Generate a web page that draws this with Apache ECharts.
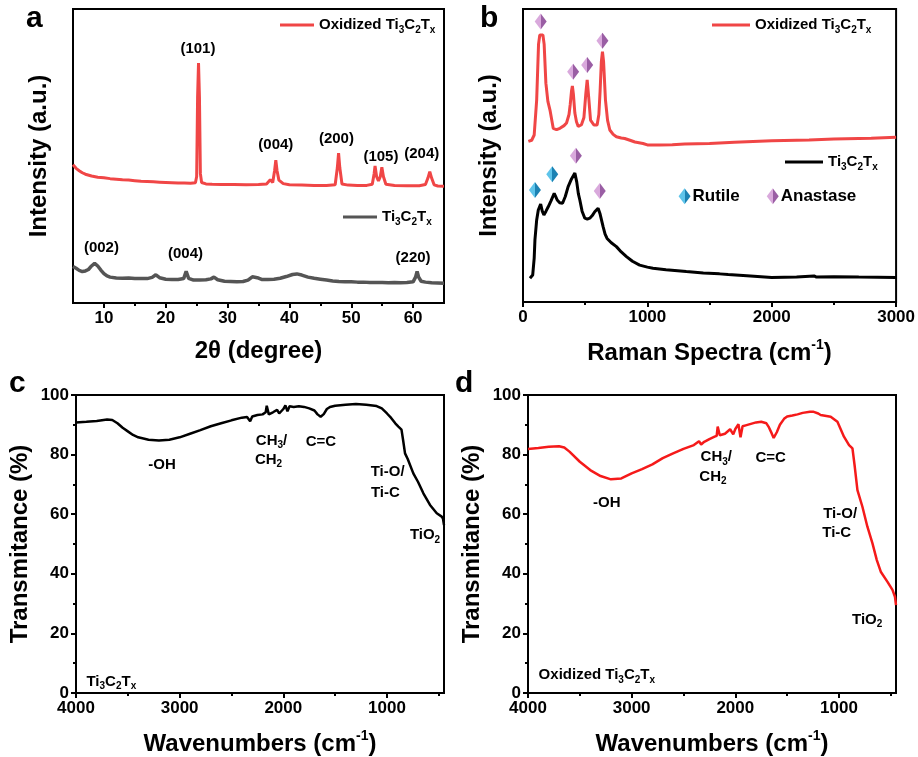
<!DOCTYPE html>
<html>
<head>
<meta charset="utf-8">
<script src="https://cdn.jsdelivr.net/npm/echarts@6/dist/echarts.min.js"></script>
<style>
  html, body { margin: 0; padding: 0; background: #fff; }
  #chart { width: 918px; height: 757px; }
</style>
</head>
<body>
<div id="chart"></div>
<script>
// ---- (a) XRD patterns, 2θ (degree) vs intensity (a.u.)
const xrdOxidized = [[5,47],[5.5,45.8],[6,45],[6.5,44.3],[7,43.8],[8,43.2],[9,42.8],[10,42.6],[11,42.3],[12,42.1],[13,41.9],[14,41.8],[15,41.6],[16,41.4],[17,41.3],[18,41.2],[19,41.1],[20,41.0],[21,40.9],[22,40.8],[23,40.8],[24,40.7],[24.8,40.9],[25.0,43],[25.15,70],[25.3,81.6],[25.45,70],[25.6,44],[25.8,41],[26.5,40.5],[27.5,40.4],[29,40.3],[31,40.3],[33,40.2],[35,40.3],[36.3,40.5],[36.9,41.9],[37.3,41.0],[37.6,45],[37.8,48.6],[38.0,45],[38.3,41.8],[38.6,41.5],[39.0,40.6],[40,40.2],[42,40.1],[44,40.0],[46,40.0],[47.4,40.2],[47.75,46],[47.95,51],[48.15,46],[48.5,40.5],[49.5,40.1],[51,40.0],[52.5,40.0],[53.4,40.4],[53.7,44],[53.85,46.6],[54.1,43],[54.4,41.5],[54.7,43],[54.95,46.2],[55.2,43],[55.6,40.4],[57,40.0],[59,39.9],[61,39.9],[62,40.3],[62.4,42.5],[62.7,44.7],[63.0,42.5],[63.4,40.2],[64,39.8],[65,39.7]];
const xrdPristine = [[5,12.4],[5.5,11.8],[6,11.1],[6.5,10.7],[7,10.9],[7.5,11.4],[8,12.6],[8.5,13.5],[9,12.6],[9.5,11.2],[10,10],[10.5,9.2],[11,8.8],[12,8.5],[13,8.4],[14,8.5],[15,8.3],[16,8.3],[17,8.3],[17.8,8.7],[18.4,9.6],[19,8.6],[20,8.1],[21,8.0],[22,8.0],[22.9,8.3],[23.3,10.8],[23.7,8.4],[24.5,7.8],[25.5,7.8],[26.5,7.9],[27.3,8.2],[27.8,8.8],[28.4,7.9],[29.5,7.4],[30.5,7.3],[31.5,7.2],[32.5,7.3],[33.3,7.8],[34,8.9],[34.8,8.6],[35.5,8.0],[36.5,8.0],[37.5,8.1],[38.5,8.4],[39.5,9.0],[40.5,9.7],[41.2,9.9],[42,9.5],[43,8.8],[44,8.4],[45,8.1],[46,7.8],[47,7.5],[48,7.3],[49,7.2],[50,7.2],[51,7.1],[52,7.1],[53,7.0],[54,7.0],[55,7.0],[56,6.9],[57,7.0],[58,6.9],[59,7.0],[60,7.2],[60.4,8.8],[60.65,10.7],[60.9,8.8],[61.3,7.4],[62,7.1],[63,6.9],[64,6.8],[65,6.7]];
const xrdTicks = [10, 20, 30, 40, 50, 60];
const xrdMinorTicks = [15, 25, 35, 45, 55];
const xrdPeakNotes = [[25.2,86.3,'(101)'],[37.8,53.7,'(004)'],[47.6,55.8,'(200)'],[54.8,49.8,'(105)'],[61.4,50.7,'(204)'],[9.6,18.6,'(002)'],[23.2,16.7,'(004)'],[60.0,15.4,'(220)']];

// ---- (b) Raman spectra
const ramanOxidized = [[43,54.8],[70,55.2],[90,57],[110,69],[125,88],[135,91.1],[160,91.1],[170,88],[184,74.7],[200,68.5],[217,65.5],[243,59.3],[270,58.8],[297,59.3],[330,60.2],[350,61.1],[370,64],[380,67.5],[390,72],[397,73.7],[405,71],[417,64.5],[430,61.5],[444,59.9],[470,60.5],[490,63],[505,71],[516,75.8],[528,70],[543,62.1],[570,60.4],[596,60.4],[610,64],[620,72],[630,82],[639,85.4],[648,82],[663,69],[680,62],[698,58.7],[725,57.2],[751,56.4],[790,56],[818,55.8],[860,55.2],[900,54.6],[965,54.1],[1000,53.6],[1100,53.6],[1200,53.7],[1300,53.9],[1500,54.1],[1700,54.5],[2000,55.0],[2300,55.3],[2500,55.6],[2800,55.9],[3000,56.2]];
const ramanPristine = [[56,8.1],[78,9.2],[90,15],[96,21.2],[110,28],[123,31.4],[142,33.4],[155,31],[168,29.7],[185,31],[203,32.5],[225,34.5],[251,37.1],[263,36],[275,34.8],[295,33.9],[318,33.7],[340,36],[363,39.4],[390,42],[417,44],[432,41],[445,37],[457,34.8],[475,31],[497,28.6],[517,28.3],[537,28.6],[557,29.5],[577,30.8],[604,32],[620,30],[644,25.7],[660,23.2],[676,21.7],[710,20.2],[751,18.9],[790,17.1],[832,15.5],[880,13.9],[938,12.6],[1000,11.9],[1045,11.5],[1150,11.0],[1313,10.4],[1450,9.9],[1580,9.6],[1650,9.4],[1800,9.0],[2000,8.4],[2200,8.5],[2340,8.9],[2360,8.5],[2500,8.6],[2700,8.5],[3000,8.4]];
const anataseMarks = [[142,95.7],[403,78.6],[516,80.9],[639,89.2],[425,49.9],[617,37.9]];
const rutileMarks = [[96,38.2],[235,43.6]];
const phaseKey = [[1299,36.1,'Rutile','rutile'],[2008,36.1,'Anastase','anatase']];

// ---- (c, d) FTIR transmittance vs wavenumber
const ftirPristine = [[4000,90.8],[3900,91.0],[3800,91.3],[3700,91.8],[3650,91.6],[3600,90.5],[3550,89],[3500,87.8],[3450,86.6],[3400,85.8],[3300,85.0],[3200,84.7],[3100,85.0],[3000,85.8],[2900,87.0],[2800,88.2],[2700,89.5],[2600,90.5],[2500,91.5],[2400,92.4],[2350,92.6],[2320,91.2],[2300,92.8],[2250,93.3],[2200,93.5],[2170,94.2],[2160,96.4],[2140,93.5],[2100,94.2],[2060,95.0],[2040,93.8],[2000,95.3],[1980,96.5],[1960,94.5],[1940,96.2],[1900,96.0],[1850,96.2],[1800,96.0],[1750,95.5],[1700,94.8],[1670,93.5],[1640,92.7],[1610,93.6],[1580,95.3],[1550,96.0],[1500,96.4],[1400,96.7],[1300,97.0],[1200,96.7],[1100,96.3],[1050,95.5],[1000,93.8],[960,92.3],[920,90.5],[890,89.4],[860,88.4],[845,85],[826,80.4],[800,78.5],[746,73.7],[700,70.8],[649,67],[585,63.1],[520,60.3],[472,59.2],[460,58.5],[450,56.4]];
const ftirOxidized = [[4000,81.9],[3900,82.2],[3800,82.6],[3700,82.8],[3650,82.4],[3600,81],[3500,77.6],[3400,74.8],[3300,72.8],[3200,71.7],[3100,72],[3000,73.7],[2900,75.1],[2800,76.7],[2700,78.8],[2600,80.4],[2500,81.9],[2400,83.2],[2350,84.5],[2330,83.4],[2300,84.3],[2250,85.2],[2200,86],[2180,86.3],[2170,89.4],[2150,86.5],[2100,87],[2050,88.5],[2020,86.8],[2000,88.6],[1970,90.2],[1950,85.8],[1930,89.5],[1900,89.8],[1850,90.3],[1800,90.8],[1750,91],[1700,90.5],[1680,89.4],[1650,87.2],[1630,85.6],[1600,87.5],[1570,90],[1530,92],[1500,92.8],[1450,93.1],[1400,93.5],[1350,94.0],[1280,94.4],[1250,94.4],[1200,93.8],[1177,93.3],[1080,92.7],[1015,91.0],[952,86],[903,83.2],[870,82.1],[848,76],[822,68.1],[774,62.5],[726,55.8],[677,50.2],[635,44.6],[597,40.7],[532,37.3],[484,34.6],[460,32.3],[450,29.5]];
const ftirTicks = [1000, 2000, 3000, 4000];
const ftirMinorTicks = [500, 1500, 2500, 3500];
const ftirNotesPristine = [[3170,76.5,'-OH'],[2114,84.7,'CH{s|3}/'],[2143,78.4,'CH{s|2}'],[1637,84.3,'C=C'],[994,74.3,'Ti-O/'],[1016,67,'Ti-C'],[633,53,'TiO{s|2}'],[3659,3.8,'Ti{s|3}C{s|2}T{s|x}']];
const ftirNotesOxidized = [[3240,63.7,'-OH'],[2184,79.1,'CH{s|3}/'],[2216,72.6,'CH{s|2}'],[1659,78.8,'C=C'],[989,60.1,'Ti-O/'],[1022,53.6,'Ti-C'],[728,24.7,'TiO{s|2}'],[3336,6,'Oxidized Ti{s|3}C{s|2}T{s|x}']];

const FONT = '"Liberation Sans", Arial, sans-serif';
const RED = '#f04646';
const chemRich = {
  s: { fontSize: 10, fontWeight: 'bold', fontFamily: FONT, color: '#000', lineHeight: 20, verticalAlign: 'bottom' }
};
const legendNames = {
  xrdOx: 'Oxidized Ti{s|3}C{s|2}T{s|x}',
  xrdPr: 'Ti{s|3}C{s|2}T{s|x}',
  ramanOx: 'Oxidized Ti{s|3}C{s|2}T{s|x}',
  ramanPr: 'Ti{s|3}C{s|2}T{s|x}'
};
const plainNumber = v => String(v);

function axisBottomMain(gridIndex, min, max, ticks, name, inverse) {
  return {
    type: 'value', gridIndex, min, max, inverse: !!inverse, position: 'bottom',
    axisLine: { show: true, onZero: false, lineStyle: { color: '#000', width: 2 } },
    axisTick: { show: true, customValues: ticks, length: 5, lineStyle: { color: '#000', width: 2 } },
    axisLabel: { customValues: ticks, formatter: plainNumber, fontSize: 17, fontWeight: 'bold', color: '#000', fontFamily: FONT, margin: 7 },
    splitLine: { show: false },
    name, nameLocation: 'middle', nameGap: 36,
    nameTextStyle: { fontSize: 24, fontWeight: 'bold', color: '#000', fontFamily: FONT,
      rich: { sup: { fontSize: 14, fontWeight: 'bold', color: '#000', fontFamily: FONT, verticalAlign: 'top', lineHeight: 30 } } }
  };
}
function axisBottomMinor(gridIndex, min, max, ticks, inverse) {
  return {
    type: 'value', gridIndex, min, max, inverse: !!inverse, position: 'bottom',
    axisLine: { show: false },
    axisTick: { show: true, customValues: ticks, length: 3, lineStyle: { color: '#000', width: 2 } },
    axisLabel: { show: false }, splitLine: { show: false }
  };
}
function axisIntensity(gridIndex) {
  return {
    type: 'value', gridIndex, min: 0, max: 100,
    axisLine: { show: true, onZero: false, lineStyle: { color: '#000', width: 2 } },
    axisTick: { show: false }, axisLabel: { show: false }, splitLine: { show: false },
    name: 'Intensity (a.u.)', nameLocation: 'middle', nameGap: 22, nameRotate: 90,
    nameTextStyle: { fontSize: 24, fontWeight: 'bold', color: '#000', fontFamily: FONT }
  };
}
function axisTransmittance(gridIndex) {
  return {
    type: 'value', gridIndex, min: 0, max: 100, interval: 20,
    axisLine: { show: true, onZero: false, lineStyle: { color: '#000', width: 2 } },
    axisTick: { show: true, length: 5, lineStyle: { color: '#000', width: 2 } },
    minorTick: { show: true, splitNumber: 2, length: 3, lineStyle: { color: '#000', width: 2 } },
    axisLabel: { formatter: plainNumber, fontSize: 17, fontWeight: 'bold', color: '#000', fontFamily: FONT, margin: 7 },
    splitLine: { show: false },
    name: 'Transmitance (%)', nameLocation: 'middle', nameGap: 44, nameRotate: 90,
    nameTextStyle: { fontSize: 24, fontWeight: 'bold', color: '#000', fontFamily: FONT }
  };
}
function lineSeries(name, data, xi, color, width) {
  return { name, type: 'line', xAxisIndex: xi, yAxisIndex: xi, data, color,
    showSymbol: false, symbol: 'none', lineStyle: { color, width }, silent: true, z: 3 };
}
// text-only annotations anchored at data coordinates
function noteSeries(notes, xi, size) {
  return {
    type: 'scatter', xAxisIndex: xi, yAxisIndex: xi, symbolSize: 0, silent: true, z: 5,
    itemStyle: { opacity: 1, color: '#000' },
    data: notes.map(n => ({ value: [n[0], n[1]], name: n[2] })),
    label: { show: true, position: 'inside', formatter: p => p.name, color: '#000', opacity: 1,
      textBorderWidth: 0, fontSize: size, fontWeight: 'bold', fontFamily: FONT, lineHeight: 20, rich: chemRich }
  };
}
function gemGradient(light, dark) {
  return new echarts.graphic.LinearGradient(0, 0, 1, 0, [
    { offset: 0, color: light }, { offset: 0.5, color: light }, { offset: 0.5, color: dark }, { offset: 1, color: dark }
  ]);
}
const anataseFill = gemGradient('#d9a9dc', '#9a5ea4');
const rutileFill = gemGradient('#5ec4ea', '#1b82b3');
function legendAt(name, left, top, w) {
  return {
    data: [name], left, top, padding: 0, icon: 'rect', itemWidth: w, itemHeight: 3,
    selectedMode: false, formatter: n => legendNames[n],
    textStyle: { fontSize: 15, fontWeight: 'bold', color: '#000', fontFamily: FONT, lineHeight: 20, rich: chemRich }
  };
}

const chart = echarts.init(document.getElementById('chart'), null, { renderer: 'canvas' });
const frame = { show: true, borderColor: '#000', borderWidth: 2, backgroundColor: 'transparent' };
chart.setOption({
  animation: false,
  textStyle: { fontFamily: FONT },
  grid: [
    Object.assign({ left: 73, top: 9, width: 371, height: 294 }, frame),
    Object.assign({ left: 523, top: 9, width: 374, height: 293 }, frame),
    Object.assign({ left: 76, top: 395, width: 368, height: 298 }, frame),
    Object.assign({ left: 528, top: 395, width: 368, height: 298 }, frame)
  ],
  xAxis: [
    axisBottomMain(0, 5, 65, xrdTicks, '2θ (degree)'),
    Object.assign(axisBottomMain(1, 0, 3000, null, 'Raman Spectra (cm{sup|-1})'), {
      interval: 1000,
      axisTick: { show: true, length: 5, lineStyle: { color: '#000', width: 2 } },
      minorTick: { show: true, splitNumber: 2, length: 3, lineStyle: { color: '#000', width: 2 } },
      axisLabel: { formatter: plainNumber, fontSize: 17, fontWeight: 'bold', color: '#000', fontFamily: FONT, margin: 7 }
    }),
    axisBottomMain(2, 450, 4000, ftirTicks, 'Wavenumbers (cm{sup|-1})', true),
    axisBottomMain(3, 450, 4000, ftirTicks, 'Wavenumbers (cm{sup|-1})', true),
    axisBottomMinor(0, 5, 65, xrdMinorTicks),
    axisBottomMinor(2, 450, 4000, ftirMinorTicks, true),
    axisBottomMinor(3, 450, 4000, ftirMinorTicks, true)
  ],
  yAxis: [axisIntensity(0), axisIntensity(1), axisTransmittance(2), axisTransmittance(3)],
  legend: [
    legendAt('xrdOx', 280, 15, 34),
    legendAt('xrdPr', 343, 207, 34),
    legendAt('ramanOx', 712, 15, 38),
    legendAt('ramanPr', 785, 152, 38)
  ],
  graphic: [
    { type: 'text', left: 26, top: 4, style: { text: 'a', fontSize: 30, fontWeight: 'bold', fontFamily: FONT, fill: '#000' } },
    { type: 'text', left: 480, top: 4, style: { text: 'b', fontSize: 30, fontWeight: 'bold', fontFamily: FONT, fill: '#000' } },
    { type: 'text', left: 9, top: 369, style: { text: 'c', fontSize: 30, fontWeight: 'bold', fontFamily: FONT, fill: '#000' } },
    { type: 'text', left: 455, top: 369, style: { text: 'd', fontSize: 30, fontWeight: 'bold', fontFamily: FONT, fill: '#000' } }
  ],
  series: [
    lineSeries('xrdOx', xrdOxidized, 0, RED, 3),
    lineSeries('xrdPr', xrdPristine, 0, '#555555', 3.5),
    noteSeries(xrdPeakNotes, 0, 15),
    lineSeries('ramanOx', ramanOxidized, 1, RED, 3),
    lineSeries('ramanPr', ramanPristine, 1, '#000000', 3),
    { type: 'scatter', xAxisIndex: 1, yAxisIndex: 1, symbol: 'diamond', symbolSize: [12, 16], silent: true, z: 6,
      data: anataseMarks, itemStyle: { color: anataseFill, opacity: 1 } },
    { type: 'scatter', xAxisIndex: 1, yAxisIndex: 1, symbol: 'diamond', symbolSize: [12, 16], silent: true, z: 6,
      data: rutileMarks, itemStyle: { color: rutileFill, opacity: 1 } },
    { type: 'scatter', xAxisIndex: 1, yAxisIndex: 1, symbol: 'diamond', symbolSize: [12, 16], silent: true, z: 6,
      itemStyle: { opacity: 1 },
      data: phaseKey.map(k => ({ value: [k[0], k[1]], name: k[2],
        itemStyle: { color: k[3] === 'rutile' ? rutileFill : anataseFill, opacity: 1 } })),
      label: { show: true, position: 'right', distance: 2, formatter: p => p.name,
        fontSize: 17, fontWeight: 'bold', color: '#000', fontFamily: FONT } },
    lineSeries('ftirPr', ftirPristine, 2, '#000000', 2.5),
    noteSeries(ftirNotesPristine, 2, 15),
    lineSeries('ftirOx', ftirOxidized, 3, '#f51a1a', 2.5),
    noteSeries(ftirNotesOxidized, 3, 15)
  ]
});
</script>
</body>
</html>
